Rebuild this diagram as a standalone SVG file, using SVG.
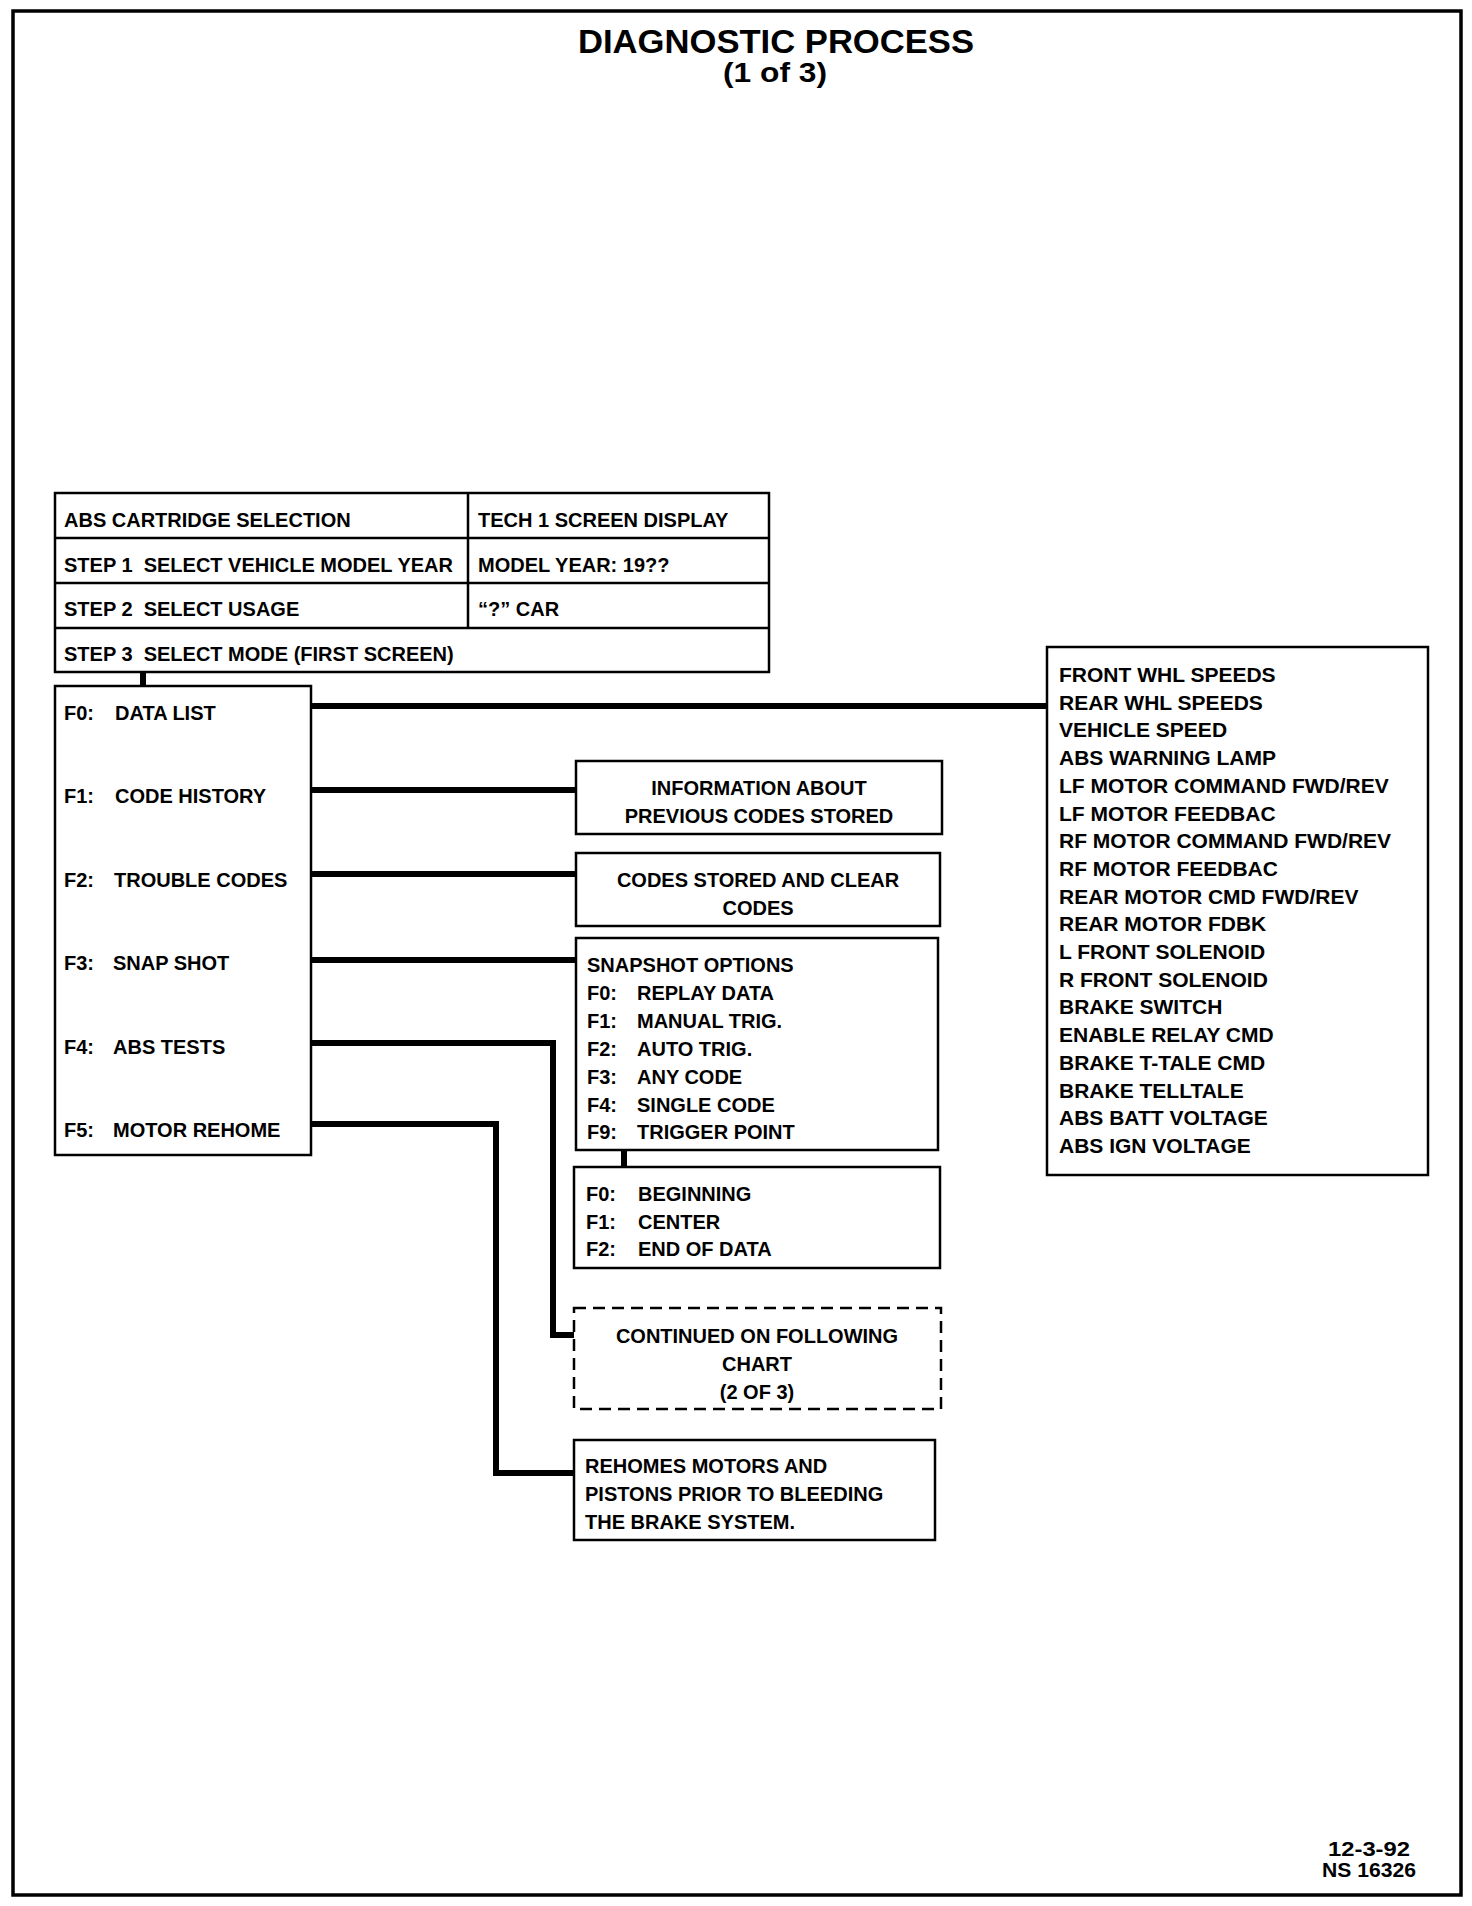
<svg xmlns="http://www.w3.org/2000/svg" width="1472" height="1906" viewBox="0 0 1472 1906">
<style>
text{font-family:"Liberation Sans",Arial,sans-serif;font-weight:bold;font-size:20px;fill:#000;white-space:pre}
.c{text-anchor:middle}
.t1{font-size:33px}
.t2{font-size:27px}
.ft{font-size:20px}
.dl{font-size:21px}
.box{fill:#fff;stroke:#000;stroke-width:2.5}
.dash{fill:#fff;stroke:#000;stroke-width:2.5;stroke-dasharray:12 7}
.ln{stroke:#000;stroke-width:2.5;fill:none}
.con{stroke:#000;stroke-width:6;fill:none}
</style>
<rect x="0" y="0" width="1472" height="1906" fill="#fff"/>
<rect x="13" y="11" width="1448" height="1884" fill="none" stroke="#000" stroke-width="3.5"/>
<g id="title">
<text class="c t1" x="776" y="53" textLength="396" lengthAdjust="spacingAndGlyphs">DIAGNOSTIC PROCESS</text>
<text class="c t2" x="775" y="82" textLength="104" lengthAdjust="spacingAndGlyphs">(1 of 3)</text>
</g>
<g id="connectors">
<path class="con" d="M143 672 V686"/>
<path class="con" d="M311 706 H1047"/>
<path class="con" d="M311 790 H576"/>
<path class="con" d="M311 874 H576"/>
<path class="con" d="M311 960 H576"/>
<path class="con" d="M311 1043 H553 V1335 H574"/>
<path class="con" d="M311 1124 H496 V1473 H574"/>
<path class="con" d="M624 1150 V1167"/>
</g>
<g id="table">
<rect class="box" x="55" y="493" width="714" height="179"/>
<path class="ln" d="M55 538 H769 M55 583 H769 M55 628 H769 M468 493 V628"/>
<text x="64" y="527">ABS CARTRIDGE SELECTION</text>
<text x="478" y="527">TECH 1 SCREEN DISPLAY</text>
<text x="64" y="572" xml:space="preserve">STEP 1  SELECT VEHICLE MODEL YEAR</text>
<text x="478" y="572">MODEL YEAR: 19??</text>
<text x="64" y="616" xml:space="preserve">STEP 2  SELECT USAGE</text>
<text x="478" y="616">“?” CAR</text>
<text x="64" y="661" xml:space="preserve">STEP 3  SELECT MODE (FIRST SCREEN)</text>
</g>
<g id="modes">
<rect class="box" x="55" y="686" width="256" height="469"/>
<text x="64" y="720">F0:</text><text x="115" y="720">DATA LIST</text>
<text x="64" y="803">F1:</text><text x="115" y="803">CODE HISTORY</text>
<text x="64" y="887">F2:</text><text x="114" y="887">TROUBLE CODES</text>
<text x="64" y="970">F3:</text><text x="113" y="970">SNAP SHOT</text>
<text x="64" y="1054">F4:</text><text x="113" y="1054">ABS TESTS</text>
<text x="64" y="1137">F5:</text><text x="113" y="1137">MOTOR REHOME</text>
</g>
<g id="datalist">
<rect class="box" x="1047" y="647" width="381" height="528"/>
<text class="dl" x="1059" y="682">FRONT WHL SPEEDS</text>
<text class="dl" x="1059" y="709.7">REAR WHL SPEEDS</text>
<text class="dl" x="1059" y="737.4">VEHICLE SPEED</text>
<text class="dl" x="1059" y="765.1">ABS WARNING LAMP</text>
<text class="dl" x="1059" y="792.8">LF MOTOR COMMAND FWD/REV</text>
<text class="dl" x="1059" y="820.5">LF MOTOR FEEDBAC</text>
<text class="dl" x="1059" y="848.2">RF MOTOR COMMAND FWD/REV</text>
<text class="dl" x="1059" y="875.9">RF MOTOR FEEDBAC</text>
<text class="dl" x="1059" y="903.6">REAR MOTOR CMD FWD/REV</text>
<text class="dl" x="1059" y="931.3">REAR MOTOR FDBK</text>
<text class="dl" x="1059" y="959">L FRONT SOLENOID</text>
<text class="dl" x="1059" y="986.7">R FRONT SOLENOID</text>
<text class="dl" x="1059" y="1014.4">BRAKE SWITCH</text>
<text class="dl" x="1059" y="1042.1">ENABLE RELAY CMD</text>
<text class="dl" x="1059" y="1069.8">BRAKE T-TALE CMD</text>
<text class="dl" x="1059" y="1097.5">BRAKE TELLTALE</text>
<text class="dl" x="1059" y="1125.2">ABS BATT VOLTAGE</text>
<text class="dl" x="1059" y="1153">ABS IGN VOLTAGE</text>
</g>
<g id="codehistory">
<rect class="box" x="576" y="761" width="366" height="73"/>
<text class="c" x="759" y="795">INFORMATION ABOUT</text>
<text class="c" x="759" y="823">PREVIOUS CODES STORED</text>
</g>
<g id="troublecodes">
<rect class="box" x="576" y="853" width="364" height="73"/>
<text class="c" x="758" y="887">CODES STORED AND CLEAR</text>
<text class="c" x="758" y="915">CODES</text>
</g>
<g id="snapshot">
<rect class="box" x="576" y="938" width="362" height="212"/>
<text x="587" y="972">SNAPSHOT OPTIONS</text>
<text x="587" y="1000">F0:</text><text x="637" y="1000">REPLAY DATA</text>
<text x="587" y="1028">F1:</text><text x="637" y="1028">MANUAL TRIG.</text>
<text x="587" y="1056">F2:</text><text x="637" y="1056">AUTO TRIG.</text>
<text x="587" y="1084">F3:</text><text x="637" y="1084">ANY CODE</text>
<text x="587" y="1112">F4:</text><text x="637" y="1112">SINGLE CODE</text>
<text x="587" y="1139">F9:</text><text x="637" y="1139">TRIGGER POINT</text>
</g>
<g id="triggerpoint">
<rect class="box" x="574" y="1167" width="366" height="101"/>
<text x="586" y="1201">F0:</text><text x="638" y="1201">BEGINNING</text>
<text x="586" y="1229">F1:</text><text x="638" y="1229">CENTER</text>
<text x="586" y="1256">F2:</text><text x="638" y="1256">END OF DATA</text>
</g>
<g id="continued">
<rect class="dash" x="574" y="1308" width="367" height="101"/>
<text class="c" x="757" y="1343">CONTINUED ON FOLLOWING</text>
<text class="c" x="757" y="1371">CHART</text>
<text class="c" x="757" y="1399">(2 OF 3)</text>
</g>
<g id="rehome">
<rect class="box" x="574" y="1440" width="361" height="100"/>
<text x="585" y="1473">REHOMES MOTORS AND</text>
<text x="585" y="1501">PISTONS PRIOR TO BLEEDING</text>
<text x="585" y="1529">THE BRAKE SYSTEM.</text>
</g>
<g id="footer">
<text class="c ft" x="1369" y="1856" textLength="82" lengthAdjust="spacingAndGlyphs">12-3-92</text>
<text class="c ft" x="1369" y="1877" textLength="94" lengthAdjust="spacingAndGlyphs">NS 16326</text>
</g>
</svg>
